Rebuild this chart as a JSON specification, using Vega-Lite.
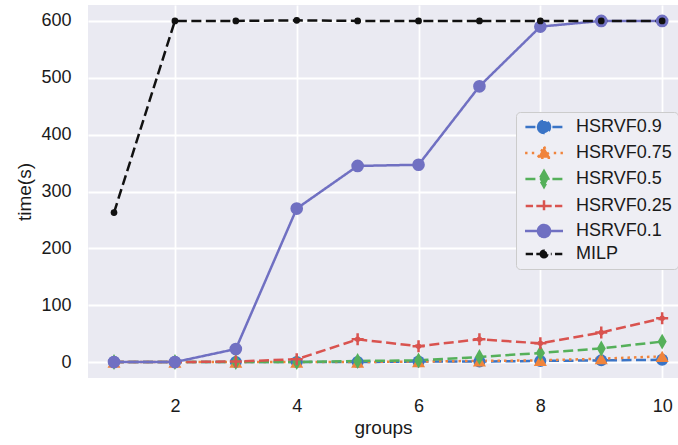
{
  "$schema": "https://vega.github.io/schema/vega-lite/v6.json",
  "width": 590,
  "height": 373,
  "autosize": {"type": "none"},
  "padding": {"left": 88, "top": 5, "right": 0, "bottom": 67},
  "background": "white",
  "config": {
    "view": {"fill": "#EAEAF2", "stroke": null},
    "font": "Liberation Sans",
    "axis": {
      "grid": true, "gridColor": "#FFFFFF", "gridWidth": 1.8, "domain": false, "ticks": false,
      "labelFont": "Liberation Sans", "labelFontSize": 18, "labelColor": "#1a1a1a",
      "titleFont": "Liberation Sans", "titleFontSize": 19, "titleFontWeight": "normal", "titleColor": "#1a1a1a"
    }
  },
  "data": {"values": [
    {"series": "HSRVF0.9", "group": 1, "time": 0}, {"series": "HSRVF0.9", "group": 2, "time": 0}, {"series": "HSRVF0.9", "group": 3, "time": 0}, {"series": "HSRVF0.9", "group": 4, "time": 0}, {"series": "HSRVF0.9", "group": 5, "time": 0}, {"series": "HSRVF0.9", "group": 6, "time": 1}, {"series": "HSRVF0.9", "group": 7, "time": 1}, {"series": "HSRVF0.9", "group": 8, "time": 2}, {"series": "HSRVF0.9", "group": 9, "time": 3}, {"series": "HSRVF0.9", "group": 10, "time": 4},
    {"series": "HSRVF0.75", "group": 1, "time": 0}, {"series": "HSRVF0.75", "group": 2, "time": 0}, {"series": "HSRVF0.75", "group": 3, "time": 0}, {"series": "HSRVF0.75", "group": 4, "time": 0}, {"series": "HSRVF0.75", "group": 5, "time": 0}, {"series": "HSRVF0.75", "group": 6, "time": 1}, {"series": "HSRVF0.75", "group": 7, "time": 2}, {"series": "HSRVF0.75", "group": 8, "time": 3}, {"series": "HSRVF0.75", "group": 9, "time": 6}, {"series": "HSRVF0.75", "group": 10, "time": 10},
    {"series": "HSRVF0.5", "group": 1, "time": 0}, {"series": "HSRVF0.5", "group": 2, "time": 0}, {"series": "HSRVF0.5", "group": 3, "time": 0}, {"series": "HSRVF0.5", "group": 4, "time": 0}, {"series": "HSRVF0.5", "group": 5, "time": 2}, {"series": "HSRVF0.5", "group": 6, "time": 3}, {"series": "HSRVF0.5", "group": 7, "time": 9}, {"series": "HSRVF0.5", "group": 8, "time": 16}, {"series": "HSRVF0.5", "group": 9, "time": 24}, {"series": "HSRVF0.5", "group": 10, "time": 36},
    {"series": "HSRVF0.25", "group": 1, "time": 0}, {"series": "HSRVF0.25", "group": 2, "time": 0}, {"series": "HSRVF0.25", "group": 3, "time": 1}, {"series": "HSRVF0.25", "group": 4, "time": 5}, {"series": "HSRVF0.25", "group": 5, "time": 40}, {"series": "HSRVF0.25", "group": 6, "time": 28}, {"series": "HSRVF0.25", "group": 7, "time": 40}, {"series": "HSRVF0.25", "group": 8, "time": 33}, {"series": "HSRVF0.25", "group": 9, "time": 52}, {"series": "HSRVF0.25", "group": 10, "time": 77},
    {"series": "HSRVF0.1", "group": 1, "time": 0}, {"series": "HSRVF0.1", "group": 2, "time": 0}, {"series": "HSRVF0.1", "group": 3, "time": 23}, {"series": "HSRVF0.1", "group": 4, "time": 270}, {"series": "HSRVF0.1", "group": 5, "time": 345}, {"series": "HSRVF0.1", "group": 6, "time": 347}, {"series": "HSRVF0.1", "group": 7, "time": 485}, {"series": "HSRVF0.1", "group": 8, "time": 590}, {"series": "HSRVF0.1", "group": 9, "time": 600}, {"series": "HSRVF0.1", "group": 10, "time": 600},
    {"series": "MILP", "group": 1, "time": 263}, {"series": "MILP", "group": 2, "time": 600}, {"series": "MILP", "group": 3, "time": 600}, {"series": "MILP", "group": 4, "time": 601}, {"series": "MILP", "group": 5, "time": 600}, {"series": "MILP", "group": 6, "time": 600}, {"series": "MILP", "group": 7, "time": 600}, {"series": "MILP", "group": 8, "time": 600}, {"series": "MILP", "group": 9, "time": 600}, {"series": "MILP", "group": 10, "time": 600}
  ]},
  "encoding": {
    "x": {"field": "group", "type": "quantitative", "title": "groups",
      "scale": {"domain": [0.573, 10.26], "nice": false, "zero": false},
      "axis": {"values": [2, 4, 6, 8, 10], "labelPadding": 19, "titlePadding": 3}},
    "y": {"field": "time", "type": "quantitative", "title": "time(s)",
      "scale": {"domain": [-28, 628], "nice": false, "zero": false},
      "axis": {"values": [0, 100, 200, 300, 400, 500, 600], "labelPadding": 17, "titlePadding": 6}},
    "color": {"field": "series", "type": "nominal",
      "scale": {"domain": ["HSRVF0.9", "HSRVF0.75", "HSRVF0.5", "HSRVF0.25", "HSRVF0.1", "MILP"],
        "range": ["#3A74C6", "#F0843C", "#55B05A", "#D9534F", "#7070C2", "#111111"]},
      "legend": {"title": null, "orient": "none", "legendX": 428, "legendY": 107, "padding": 6, "symbolOffset": 13,
        "labelOffset": 23, "rowPadding": 3, "labelFontSize": 18, "labelFont": "Liberation Sans",
        "labelColor": "#1a1a1a", "strokeColor": "#CCCCCC", "cornerRadius": 4, "fillColor": "#EEEEF4",
        "symbolSize": 144, "symbolStrokeWidth": 2.5, "symbolOpacity": 1,
        "encode": {"symbols": {"update": {"fill": {"scale": "color", "field": "value"}, "stroke": {"scale": "color", "field": "value"}, "strokeWidth": {"value": 2.5}, "strokeDash": {"value": [1, 0]}, "opacity": {"value": 1}, "size": {"value": 144}}}}}},
    "shape": {"field": "series", "type": "nominal",
      "scale": {"domain": ["HSRVF0.9", "HSRVF0.75", "HSRVF0.5", "HSRVF0.25", "HSRVF0.1", "MILP"],
        "range": [
          "M -3.1 0 L -1.4 0 M 1.4 0 L 3.1 0 M -1 0 A 1 1 0 1 0 1 0 A 1 1 0 1 0 -1 0 Z",
          "M -3.15 0 L -2.75 0 M -2.03 0 L -1.63 0 M 1.63 0 L 2.03 0 M 2.75 0 L 3.15 0 M 0 -1.05 L 1.05 0.8 L -1.05 0.8 Z",
          "M -3.1 0 L -1.4 0 M 1.4 0 L 3.1 0 M 0 -1.33 L 0.75 0 L 0 1.33 L -0.75 0 Z",
          "M -3.05 0 L -1.83 0 M -1.28 0 L -0.45 0 M 0.45 0 L 1.28 0 M 1.83 0 L 3.05 0 M -0.95 0 L 0.95 0 M 0 -0.95 L 0 0.95",
          "M -3.17 0 L 3.17 0 M -1 0 A 1 1 0 1 0 1 0 A 1 1 0 1 0 -1 0 Z",
          "M -3.05 0 L -1.83 0 M -1.28 0 L 1.28 0 M 1.83 0 L 3.05 0 M -0.55 0 A 0.55 0.55 0 1 0 0.55 0 A 0.55 0.55 0 1 0 -0.55 0 Z"
        ]},
      "legend": {"title": null}}
  },
  "layer": [
    {
      "mark": {"type": "line", "strokeWidth": 2.5},
      "encoding": {
        "shape": {"value": "circle"},
        "strokeDash": {"field": "series", "type": "nominal",
          "scale": {"domain": ["HSRVF0.9", "HSRVF0.75", "HSRVF0.5", "HSRVF0.25", "HSRVF0.1", "MILP"],
            "range": [[10, 4.5], [2.5, 4], [10, 4.5], [10, 4.5], [1, 0], [10, 4.5]]},
          "legend": null}
      }
    },
    {"transform": [{"filter": "datum.series == 'HSRVF0.9'"}], "mark": {"type": "point", "filled": true, "opacity": 1, "size": 144}, "encoding": {"shape": {"value": "circle"}}},
    {"transform": [{"filter": "datum.series == 'HSRVF0.75'"}], "mark": {"type": "point", "filled": true, "opacity": 1, "size": 170}, "encoding": {"shape": {"value": "triangle-up"}}},
    {"transform": [{"filter": "datum.series == 'HSRVF0.5'"}], "mark": {"type": "point", "filled": true, "opacity": 1, "size": 144}, "encoding": {"shape": {"value": "M 0 -1.33 L 0.75 0 L 0 1.33 L -0.75 0 Z"}}},
    {"transform": [{"filter": "datum.series == 'HSRVF0.25'"}], "mark": {"type": "point", "filled": false, "opacity": 1, "strokeWidth": 2.5, "size": 144}, "encoding": {"shape": {"value": "M -1 0 L 1 0 M 0 -1 L 0 1"}}},
    {"transform": [{"filter": "datum.series == 'HSRVF0.1'"}], "mark": {"type": "point", "filled": true, "opacity": 1, "size": 160}, "encoding": {"shape": {"value": "circle"}}},
    {"transform": [{"filter": "datum.series == 'MILP'"}], "mark": {"type": "point", "filled": true, "opacity": 1, "size": 45}, "encoding": {"shape": {"value": "circle"}}},
    {
      "mark": {"type": "point", "filled": true, "opacity": 0}
    }
  ]
}
